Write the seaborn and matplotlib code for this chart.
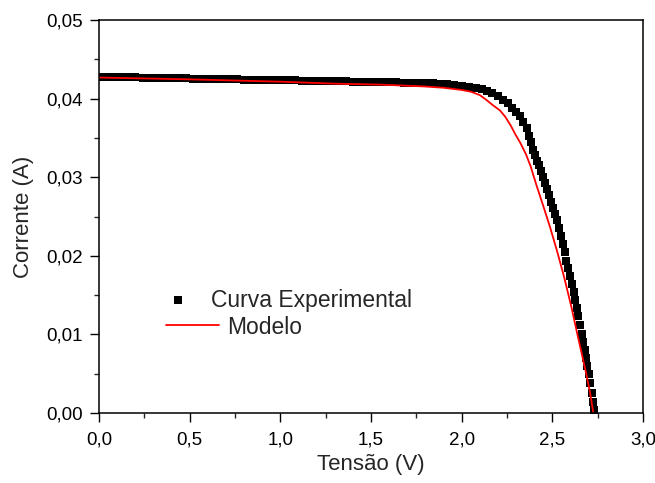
import matplotlib
matplotlib.use("Agg")
import matplotlib.pyplot as plt
import seaborn as sns
from matplotlib.ticker import MultipleLocator, FuncFormatter

# experimental I-V points
v_exp = [0.00, 0.04, 0.08, 0.12, 0.16, 0.20, 0.24, 0.28, 0.32, 0.36,
         0.40, 0.44, 0.48, 0.52, 0.56, 0.60, 0.64, 0.68, 0.72, 0.76,
         0.80, 0.84, 0.88, 0.92, 0.96, 1.00, 1.04, 1.08, 1.12, 1.16,
         1.20, 1.24, 1.28, 1.32, 1.36, 1.40, 1.44, 1.48, 1.52, 1.56,
         1.60, 1.64, 1.68, 1.72, 1.76, 1.80, 1.84, 1.88, 1.92, 1.96,
         2.00, 2.04, 2.08, 2.11, 2.14, 2.17, 2.20, 2.23, 2.255, 2.28,
         2.30, 2.32, 2.34, 2.36, 2.37, 2.38, 2.393, 2.405, 2.417, 2.428,
         2.439, 2.450, 2.461, 2.472, 2.483, 2.494, 2.505, 2.516, 2.527, 2.538,
         2.548, 2.558, 2.568, 2.578, 2.588, 2.598, 2.608, 2.617, 2.626, 2.635,
         2.644, 2.653, 2.662, 2.670, 2.678, 2.686, 2.693, 2.700, 2.708, 2.716,
         2.723, 2.730]
i_exp = [0.04278, 0.04276, 0.04274, 0.04273, 0.04271, 0.04270, 0.04268, 0.04266, 0.04264, 0.04262,
         0.04261, 0.04259, 0.04257, 0.04255, 0.04254, 0.04252, 0.04250, 0.04248, 0.04247, 0.04245,
         0.04243, 0.04241, 0.04240, 0.04238, 0.04236, 0.04234, 0.04232, 0.04231, 0.04229, 0.04227,
         0.04226, 0.04224, 0.04222, 0.04220, 0.04218, 0.04217, 0.04215, 0.04213, 0.04211, 0.04210,
         0.04208, 0.04206, 0.04204, 0.04202, 0.04200, 0.04197, 0.04193, 0.04188, 0.04182, 0.04174,
         0.04164, 0.04150, 0.04135, 0.04118, 0.04095, 0.04065, 0.04030, 0.03985, 0.03940, 0.03885,
         0.03835, 0.03775, 0.03705, 0.03620, 0.03530, 0.03450, 0.03350, 0.03280, 0.03210, 0.03150,
         0.03080, 0.03000, 0.02930, 0.02850, 0.02770, 0.02690, 0.02610, 0.02530, 0.02450, 0.02350,
         0.02250, 0.02150, 0.02050, 0.01940, 0.01840, 0.01740, 0.01640, 0.01540, 0.01440, 0.01330,
         0.01230, 0.01120, 0.01010, 0.00900, 0.00800, 0.00700, 0.00600, 0.00500, 0.00380, 0.00260,
         0.00140, 0.00040]

# model curve
v_mod = [0.00, 0.50, 1.00, 1.30, 1.55, 1.79, 1.90, 2.00, 2.05, 2.10,
         2.138, 2.17, 2.211, 2.24, 2.27, 2.295, 2.325, 2.355, 2.38, 2.415,
         2.452, 2.488, 2.526, 2.565, 2.605, 2.645, 2.686, 2.708, 2.726]
i_mod = [0.04268, 0.04245, 0.04215, 0.04190, 0.04178, 0.04155, 0.04138, 0.04110, 0.04088, 0.04045,
         0.03980, 0.03920, 0.03850, 0.03770, 0.03660, 0.03550, 0.03430, 0.03290, 0.03140, 0.02880,
         0.02620, 0.02360, 0.02060, 0.01730, 0.01350, 0.00930, 0.00510, 0.00260, 0.00000]

sns.set_style("ticks")
plt.rcParams["font.family"] = ["Liberation Sans", "DejaVu Sans"]

fig = plt.figure(figsize=(6.55, 4.83), dpi=100)
ax = fig.add_axes([99 / 655, 1 - 413 / 483, 544 / 655, 393 / 483])

sns.scatterplot(x=v_exp, y=i_exp, marker="s", s=30, color="black",
                linewidth=0, ax=ax, legend=False)
sns.lineplot(x=v_mod, y=i_mod, color="red", linewidth=1.3, sort=False,
             estimator=None, ax=ax)

ax.set_xlim(0, 3.0)
ax.set_ylim(0, 0.05)
ax.xaxis.set_major_locator(MultipleLocator(0.5))
ax.xaxis.set_minor_locator(MultipleLocator(0.25))
ax.yaxis.set_major_locator(MultipleLocator(0.01))
ax.yaxis.set_minor_locator(MultipleLocator(0.005))
ax.xaxis.set_major_formatter(FuncFormatter(lambda v, p: f"{v:.1f}".replace(".", ",")))
ax.yaxis.set_major_formatter(FuncFormatter(lambda v, p: f"{v:.2f}".replace(".", ",")))

ax.tick_params(which="major", direction="out", length=6.5, width=1.0,
               labelsize=13.5, colors="black")
ax.tick_params(which="minor", direction="out", length=3.5, width=1.0)
ax.tick_params(axis="x", which="major", pad=7)
ax.tick_params(axis="y", which="major", pad=5)
for s in ax.spines.values():
    s.set_linewidth(1.1)
    s.set_color("black")

ax.set_xlabel("Tensão (V)", fontsize=16)
ax.set_ylabel("Corrente (A)", fontsize=16)
ax.xaxis.set_label_coords(0.5, -(454 - 413) / 393)
ax.yaxis.set_label_coords(-(99 - 34) / 544, 0.5)

# legend entries, placed like the original (two separate rows)
h_exp = ax.collections[0]
h_mod = ax.lines[0]
leg1 = ax.legend([h_exp], ["Curva Experimental"], loc="center left",
                 bbox_to_anchor=((164 - 99) / 544, (413 - 300) / 393),
                 frameon=False, fontsize=16.5, handlelength=1.2,
                 handletextpad=0.85, borderpad=0, borderaxespad=0)
ax.add_artist(leg1)
ax.legend([h_mod], ["Modelo"], loc="center left",
          bbox_to_anchor=((166 - 99) / 544, (413 - 327) / 393),
          frameon=False, fontsize=16.5, handlelength=2.3,
          handletextpad=0.35, borderpad=0, borderaxespad=0)

fig.savefig("out.png", dpi=100)
